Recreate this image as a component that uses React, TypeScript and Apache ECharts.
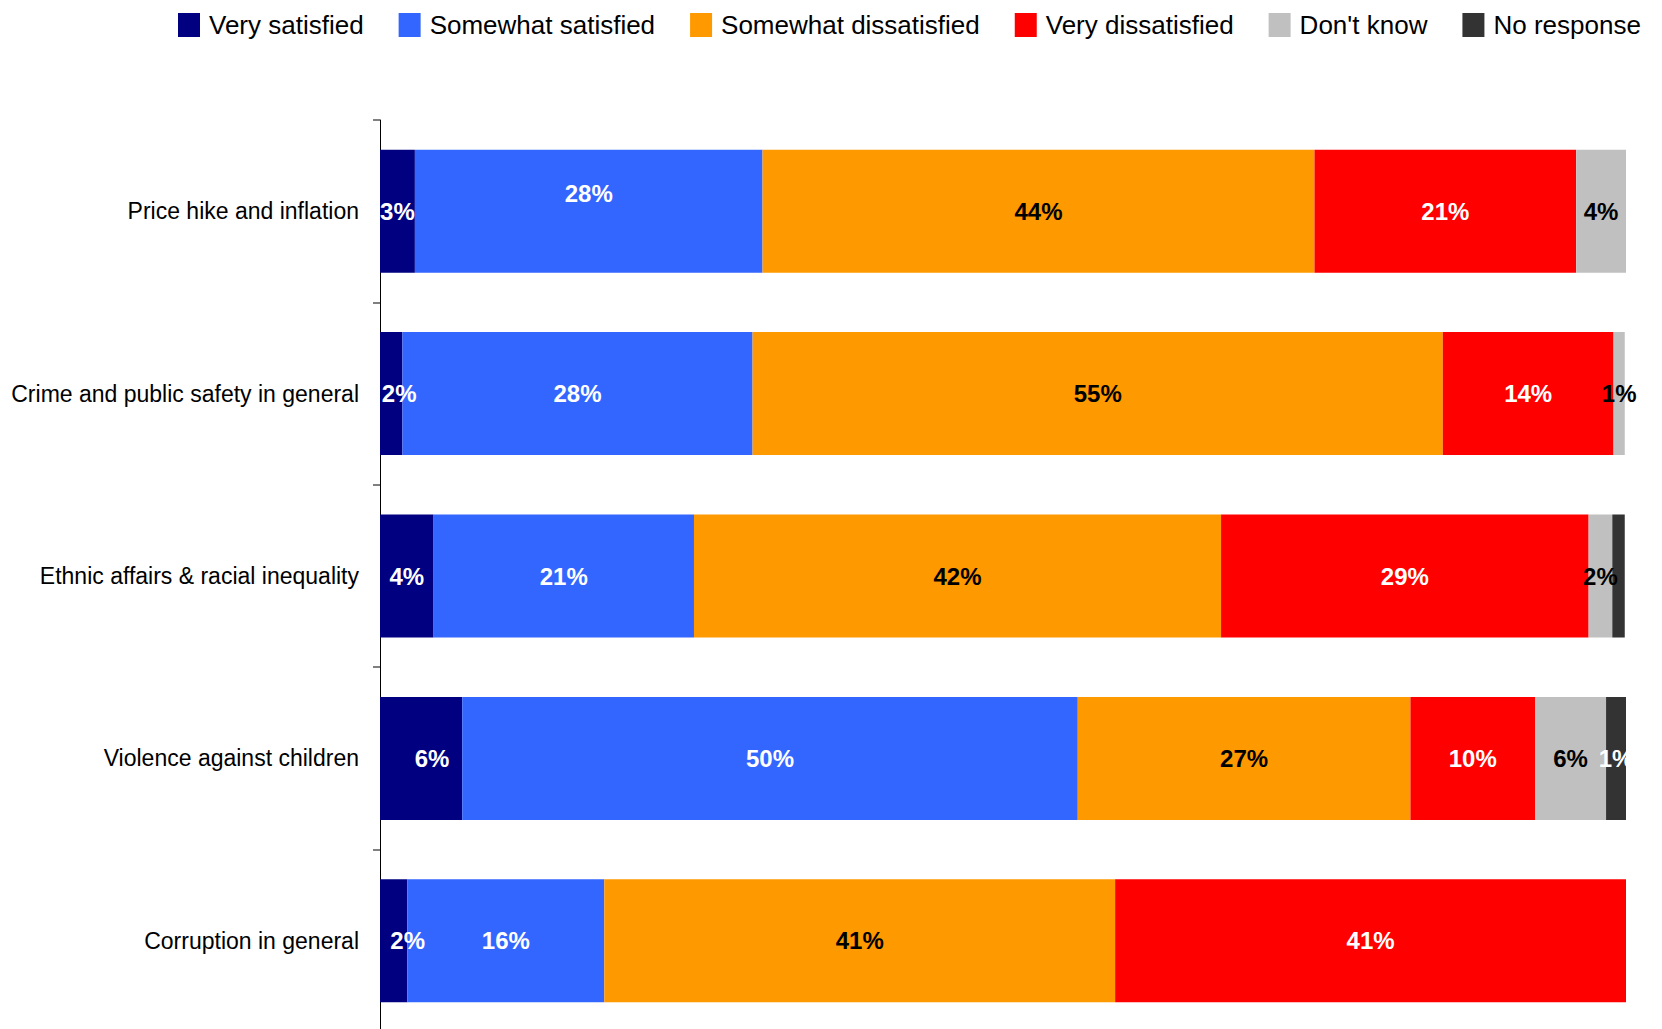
import React, { useEffect, useRef } from "react";
import * as echarts from "echarts";

const categories = [
  "Price hike and inflation",
  "Crime and public safety in general",
  "Ethnic affairs & racial inequality",
  "Violence against children",
  "Corruption in general",
];

const seriesNames = [
  "Very satisfied",
  "Somewhat satisfied",
  "Somewhat dissatisfied",
  "Very dissatisfied",
  "Don't know",
  "No response",
];

// Segment sizes measured from the bars
const verySatisfied = [2.8, 1.8, 4.3, 6.6, 2.2];
const somewhatSatisfied = [27.9, 28.1, 20.9, 49.4, 15.8];
const somewhatDissatisfied = [44.3, 55.4, 42.3, 26.7, 41.0];
const veryDissatisfied = [21.0, 13.7, 29.5, 10.0, 41.0];
const dontKnow = [4.0, 0.9, 1.9, 5.7, 0];
const noResponse = [0, 0, 1.0, 1.6, 0];

// Printed labels (null = no label)
const verySatisfiedLabels = ["3%", "2%", "4%", "6%", "2%"];
const somewhatSatisfiedLabels = ["28%", "28%", "21%", "50%", "16%"];
const somewhatDissatisfiedLabels = ["44%", "55%", "42%", "27%", "41%"];
const veryDissatisfiedLabels = ["21%", "14%", "29%", "10%", "41%"];
const dontKnowLabels = ["4%", "1%", "2%", "6%", null];
const noResponseLabels = [null, null, null, "1%", null];

const colors = ["#000080", "#3366FF", "#FF9900", "#FF0000", "#C0C0C0", "#333333"];
const labelColors = ["#FFFFFF", "#FFFFFF", "#000000", "#FFFFFF", "#000000", "#FFFFFF"];

const allValues = [
  verySatisfied,
  somewhatSatisfied,
  somewhatDissatisfied,
  veryDissatisfied,
  dontKnow,
  noResponse,
];
const allLabels = [
  verySatisfiedLabels,
  somewhatSatisfiedLabels,
  somewhatDissatisfiedLabels,
  veryDissatisfiedLabels,
  dontKnowLabels,
  noResponseLabels,
];

// label nudges [series-row] -> [dx, dy]
const nudges: Record<string, [number, number]> = {
  "1-0": [0, -18],
  "0-1": [8, 0],
  "0-3": [11, 0],
  "0-4": [14, 0],
};

const FONT = "'Liberation Sans', Arial, sans-serif";

export default function App() {
  const ref = useRef<HTMLDivElement>(null);

  useEffect(() => {
    if (!ref.current) return;
    const chart = echarts.init(ref.current, null, { renderer: "svg" });

    const series = seriesNames.map((name, si) => ({
      name,
      type: "bar",
      stack: "total",
      barWidth: 123,
      itemStyle: { color: colors[si] },
      label: {
        show: true,
        position: "inside",
        color: labelColors[si],
        fontFamily: FONT,
        fontWeight: "bold",
        fontSize: 24,
      },
      data: allValues[si].map((v, ri) => {
        const txt = allLabels[si][ri];
        const nudge = nudges[`${si}-${ri}`];
        return {
          value: v,
          label: {
            show: txt != null,
            formatter: () => txt ?? "",
            offset: nudge ?? [0, 0],
          },
        };
      }),
    }));

    chart.setOption({
      animation: false,
      backgroundColor: "#FFFFFF",
      legend: {
        top: 12,
        left: 178,
        width: 1484,
        padding: 0,
        itemWidth: 22,
        itemHeight: 24,
        itemGap: 35,
        icon: "rect",
        textStyle: {
          fontFamily: FONT,
          fontSize: 26,
          color: "#000000",
          padding: [0, 0, 0, 4],
        },
        data: seriesNames,
      },
      grid: {
        left: 380,
        right: 36,
        top: 120,
        height: 912,
        outerBoundsMode: "none",
        containLabel: false,
      },
      xAxis: {
        type: "value",
        min: 0,
        max: 100,
        show: false,
      },
      yAxis: {
        type: "category",
        inverse: true,
        data: categories,
        axisLine: { show: true, lineStyle: { color: "#000000", width: 1 } },
        axisTick: { show: true, length: 7, lineStyle: { color: "#808080", width: 2 } },
        axisLabel: {
          margin: 21,
          fontFamily: FONT,
          fontSize: 23,
          color: "#000000",
        },
        splitLine: { show: false },
      },
      series,
    } as any);

    return () => chart.dispose();
  }, []);

  return (
    <div
      ref={ref}
      style={{ position: "absolute", left: 0, top: 0, width: 1662, height: 1029 }}
    />
  );
}
